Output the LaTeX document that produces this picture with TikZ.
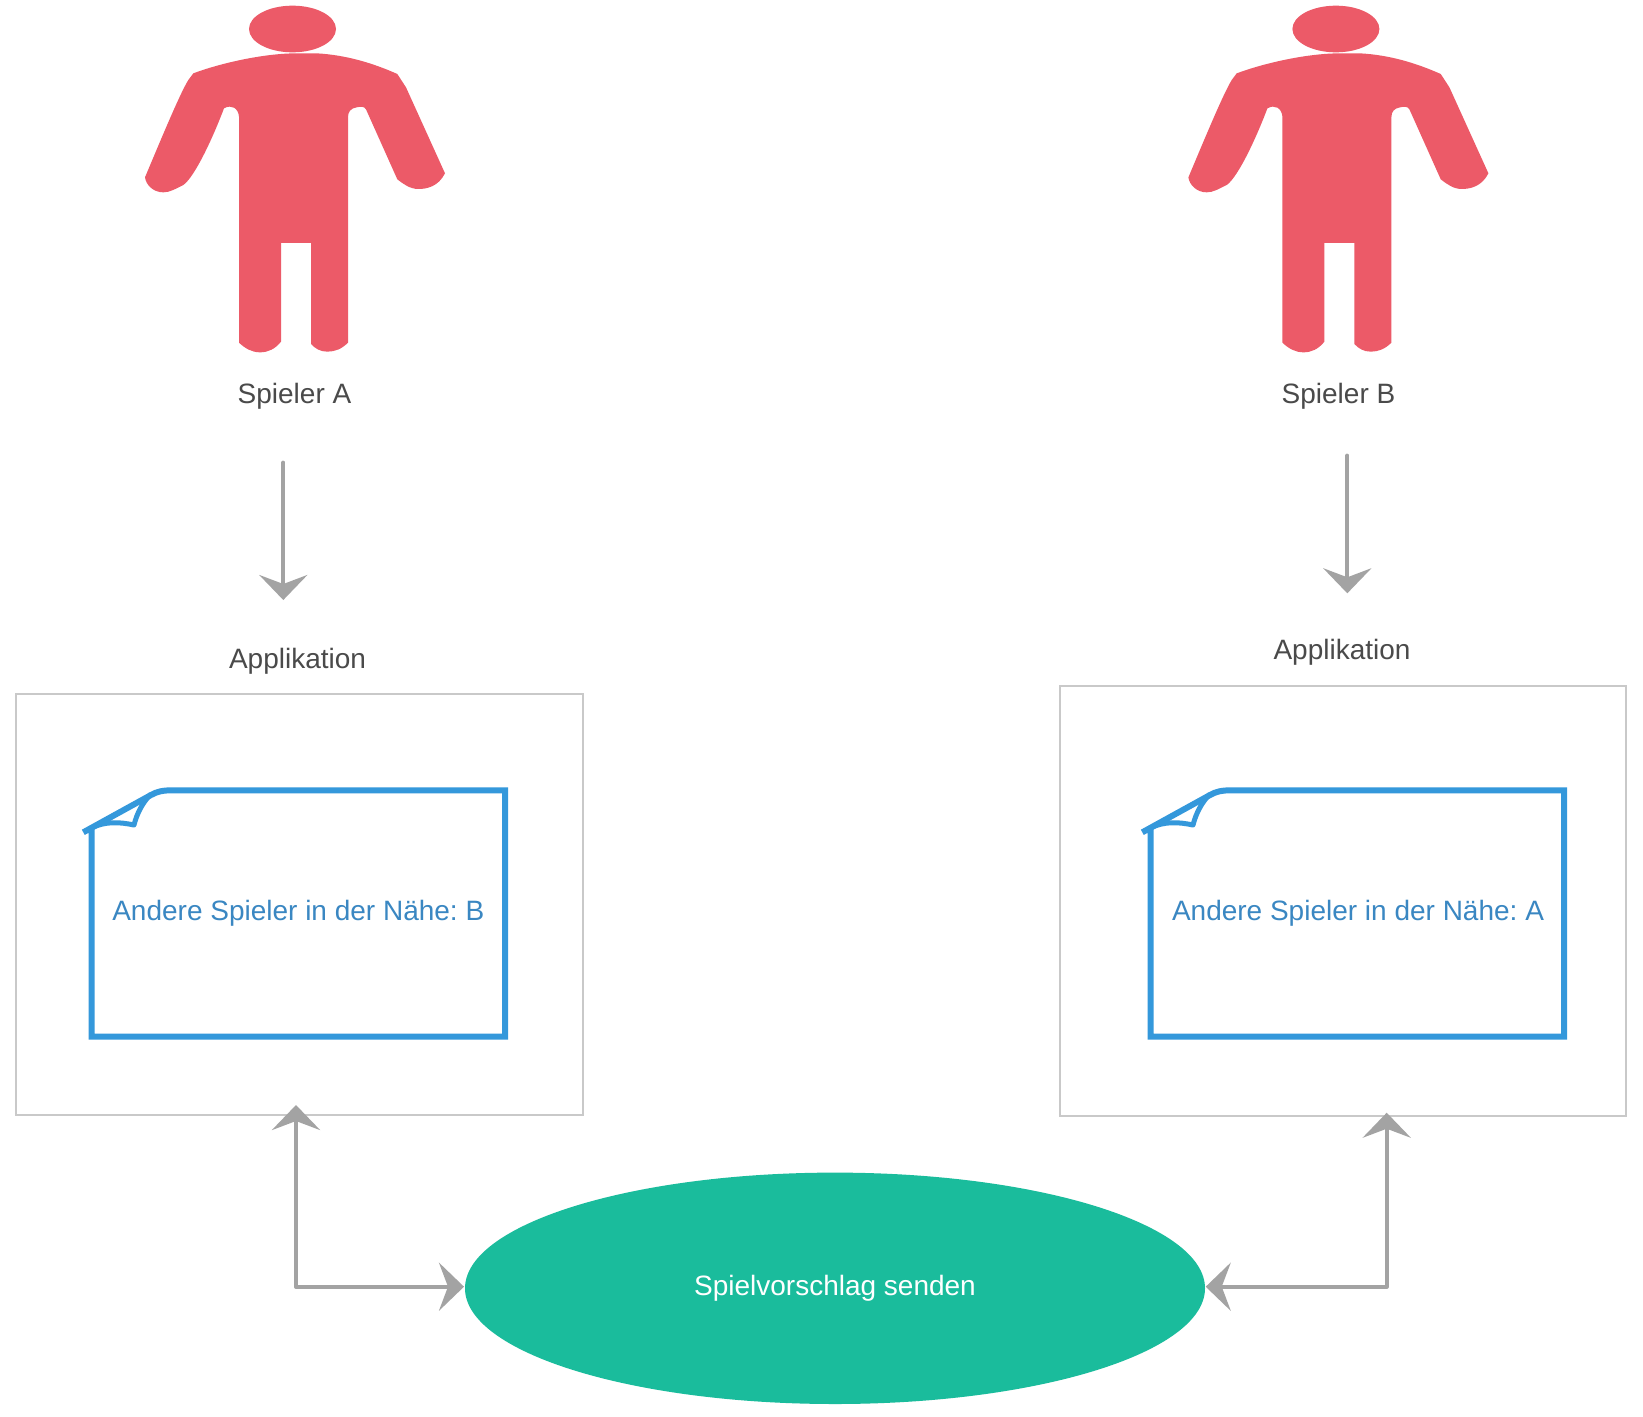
\documentclass[tikz,border=0pt]{standalone}
\usepackage{fontspec}
\setmainfont{Liberation Sans}
\usetikzlibrary{arrows.meta,shapes.geometric}
\definecolor{personred}{HTML}{EC5A68}
\definecolor{docblue}{HTML}{3498DB}
\definecolor{doctext}{HTML}{3A87C2}
\definecolor{arrowgrey}{HTML}{A3A3A3}
\definecolor{labelgrey}{HTML}{4A4A4A}
\definecolor{boxgrey}{HTML}{C9C9C9}
\definecolor{ellipsegreen}{HTML}{1ABC9C}
\tikzset{
  bodytext/.style={font=\fontsize{28}{33}\selectfont\frenchspacing,inner sep=0pt,anchor=base},
  playerlabel/.style={bodytext,text=labelgrey},
  doclabel/.style={bodytext,text=doctext},
  appbox/.style={draw=boxgrey,line width=2.2pt,fill=none,inner sep=0pt,minimum width=#1,minimum height=421pt},
  docline/.style={draw=docblue,line width=6pt},
  flow/.style={draw=arrowgrey,line width=4.2pt,line cap=round,-{Stealth[length=25pt,width=48pt,inset=9pt]}},
  bothflow/.style={draw=arrowgrey,line width=4.2pt,line join=round,{Stealth[length=25pt,width=48pt,inset=9pt]}-{Stealth[length=25pt,width=48pt,inset=9pt]}},
}
\newcommand{\personfigure}{%
  \fill[personred] (517.5,87) ellipse [x radius=130.5,y radius=70];
  \fill[personred] (220,220) .. controls (300,190) and (430,160) .. (530,160)
    -- (590,160) .. controls (680,165) and (760,190) .. (832,222)
    -- (858,262) -- (975,520) .. controls (955,560) and (920,567) .. (895,567)
    .. controls (870,567) and (850,552) .. (832,538)
    -- (738,328) .. controls (733,318) and (720,320) .. (710,322)
    .. controls (692,325) and (684,335) .. (684,352)
    -- (684,1028) .. controls (665,1047) and (645,1055) .. (622,1055)
    .. controls (600,1055) and (585,1045) .. (573,1032)
    -- (573,729) -- (483,729) -- (483,1025)
    .. controls (465,1047) and (445,1057) .. (420,1057)
    .. controls (395,1057) and (375,1045) .. (357,1028)
    -- (357,350) .. controls (355,325) and (335,312) .. (312,325)
    .. controls (280,410) and (225,530) .. (190,555)
    .. controls (165,567) and (150,577) .. (130,577)
    .. controls (100,577) and (78,555) .. (75,532)
    .. controls (120,425) and (180,280) .. (205,240)
    -- (220,220) -- cycle;
}
\newcommand{\docfigure}{%
  \draw[docline,line join=miter] (91.5,826) -- (91.5,1036.7) -- (505,1036.7) -- (505,790.3)
    -- (172,790.3) .. controls (163,790.3) and (157,791.5) .. (151,795) -- (83.3,832.3);
  \draw[docline,line join=round,line width=5pt] (91.5,828) .. controls (105,821) and (120,822) .. (134,825)
    .. controls (137,813) and (143,802) .. (151,794);
}
\begin{document}
\begin{tikzpicture}[x=1pt,y=-1pt]
  \useasboundingbox (0,0) rectangle (1643,1416);
  \fill[white] (0,0) rectangle (1643,1416);

  % people
  \begin{scope}[shift={(120,0)},x=0.33333pt,y=-0.33333pt]\personfigure\end{scope}
  \begin{scope}[shift={(1163.4,0)},x=0.33333pt,y=-0.33333pt]\personfigure\end{scope}
  \node[playerlabel] (playerA) at (294.5,403.2) {Spieler A};
  \node[playerlabel] (playerB) at (1338.5,403.2) {Spieler B};

  % application frames
  \node[playerlabel] (titleA) at (297.5,668) {Applikation};
  \node[playerlabel] (titleB) at (1342,659) {Applikation};
  \node[appbox=567pt] (appA) at (299.5,904.5) {};
  \node[appbox=566pt,minimum height=430pt] (appB) at (1343,901) {};

  % note sheets
  \docfigure
  \begin{scope}[shift={(1059,0)}]\docfigure\end{scope}
  \node[doclabel] (noteA) at (298.3,920) {Andere Spieler in der Nähe: B};
  \node[doclabel] (noteB) at (1358,920) {Andere Spieler in der Nähe: A};

  % action
  \node[ellipse,fill=ellipsegreen,text=white,inner sep=0pt,minimum width=740pt,minimum height=231.4pt,
        font=\fontsize{28}{33}\selectfont] (send) at (835,1288.3) {Spielvorschlag senden};

  % connectors
  \coordinate (fromA) at (283.3,462.7);
  \coordinate (toA) at (283.3,600);
  \coordinate (fromB) at (1347.3,455.7);
  \coordinate (toB) at (1347.3,593.3);
  \coordinate (appAport) at (296,1105);
  \coordinate (appBport) at (1386.7,1112.7);
  \coordinate (sendL) at (464,1286.7);
  \coordinate (sendR) at (1205.7,1286.7);
  \draw[flow] (fromA) -- (toA);
  \draw[flow] (fromB) -- (toB);
  \draw[bothflow] (appAport) |- (sendL);
  \draw[bothflow] (appBport) |- (sendR);
\end{tikzpicture}
\end{document}
